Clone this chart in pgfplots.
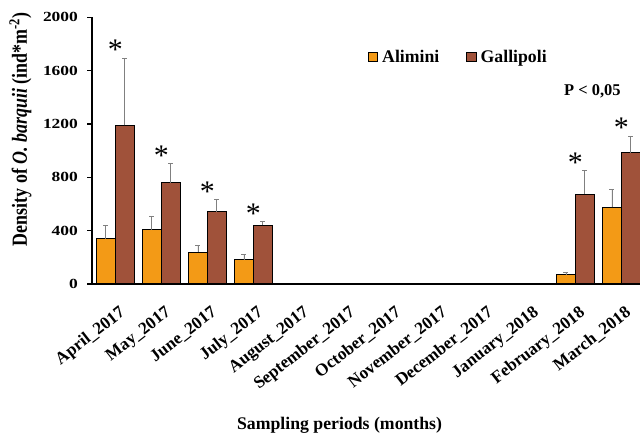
\documentclass[border=0pt]{standalone}
\usepackage{fontspec}
\setmainfont{Liberation Serif}
\usepackage{pgfplots}
\usepackage{pgfplotstable}
\pgfplotsset{compat=1.18}
\definecolor{cAli}{HTML}{F39A16}
\definecolor{cGal}{HTML}{A0523A}
\pgfplotstableread{
x y e
0 338 100
1 405 103
2 238 50
3 180 40
10 68 20
11 573 136
}\ali
\pgfplotstableread{
x y e
0 1189 505
1 758 143
2 540 94
3 441 27
10 673 175
11 983 126
}\gal
\pgfplotstableread{
x y
0 1694
1 901
2 634
3 468
10 848
11 1109
}\star
\begin{document}
\begin{tikzpicture}
\path[use as bounding box] (-92.3bp,-149.2bp) rectangle (547.7bp,283.8bp);
\begin{axis}[
  scale only axis,
  width=552bp, height=266.5bp,
  xmin=-0.5, xmax=11.5, ymin=0, ymax=2000,
  enlargelimits=false,
  clip=false,
  axis x line=bottom, axis y line=left,
  axis line style={-, line width=1.6bp, black},
  every tick/.style={black, line width=1.4bp},
  tick align=outside,
  major tick length=5bp,
  xtick={0,...,11},
  x tick style={draw=none},
  minor xtick={-0.5,0.5,...,11.5},
  minor x tick style={black, line width=1.4bp},
  minor tick length=5bp,
  xticklabels={April\_2017,May\_2017,June\_2017,July\_2017,August\_2017,September\_2017,October\_2017,November\_2017,December\_2017,January\_2018,February\_2018,March\_2018},
  xticklabel style={xshift=3bp, yshift=-16bp, rotate=38, anchor=north east, inner sep=0pt, font=\fontsize{17.3}{17.3}\selectfont\bfseries},
  ytick={0,400,...,2000},
  yticklabel style={xshift=-5bp, xscale=1.25, font=\fontsize{14}{14}\selectfont\bfseries},
  /pgf/number format/assume math mode=true,
  /pgf/number format/1000 sep={},
  ylabel={\textbf{Density of \textit{O. barquii} (ind*m\textsuperscript{-2})}},
  ylabel style={font=\fontsize{18}{18}\selectfont, yscale=1.2, at={(axis description cs:-0.130,0.58)}, anchor=center},
  xlabel={\textbf{Sampling periods (months)}},
  xlabel style={font=\fontsize{17.8}{17.8}\selectfont, at={(axis description cs:0.448,-0.532)}, anchor=center},
  ybar=0pt,
  bar width=18.8bp,
  legend columns=2,
  legend style={draw=none, fill=none, at={(axis description cs:0.499,0.852)}, anchor=west, font=\fontsize{17.8}{17.8}\selectfont\bfseries, inner sep=0pt, /tikz/every even column/.append style={column sep=25bp}},
  legend image code/.code={\draw[#1, line width=0.8bp] (0bp,-4.8bp) rectangle (9.5bp,4.8bp);},
]
\addplot[fill=cAli, draw=black, line width=0.8bp, bar shift=-9.4bp,
  error bars/.cd, y dir=plus, y explicit,
  error bar style={gray, line width=0.8bp},
  error mark options={gray, rotate=90, mark size=2.5bp, line width=0.8bp}]
  table[x=x, y=y, y error=e]{\ali};
\addlegendentry{\hspace{2bp}Alimini}
\addplot[fill=cGal, draw=black, line width=0.8bp, bar shift=9.4bp,
  error bars/.cd, y dir=plus, y explicit,
  error bar style={gray, line width=0.8bp},
  error mark options={gray, rotate=90, mark size=2.5bp, line width=0.8bp}]
  table[x=x, y=y, y error=e]{\gal};
\addlegendentry{\hspace{2bp}Gallipoli}
\addplot[draw=none, fill=none, bar shift=9.4bp, forget plot,
  nodes near coords={*},
  every node near coord/.style={anchor=south, inner sep=0pt, yshift=-2bp, font=\fontsize{30}{30}\selectfont, text=black}]
  table[x=x, y=y]{\star};
\node[font=\fontsize{16.5}{16.5}\selectfont\bfseries, anchor=center] at (axis description cs:0.906,0.7235) {P < 0,05};
\end{axis}
\end{tikzpicture}
\end{document}
